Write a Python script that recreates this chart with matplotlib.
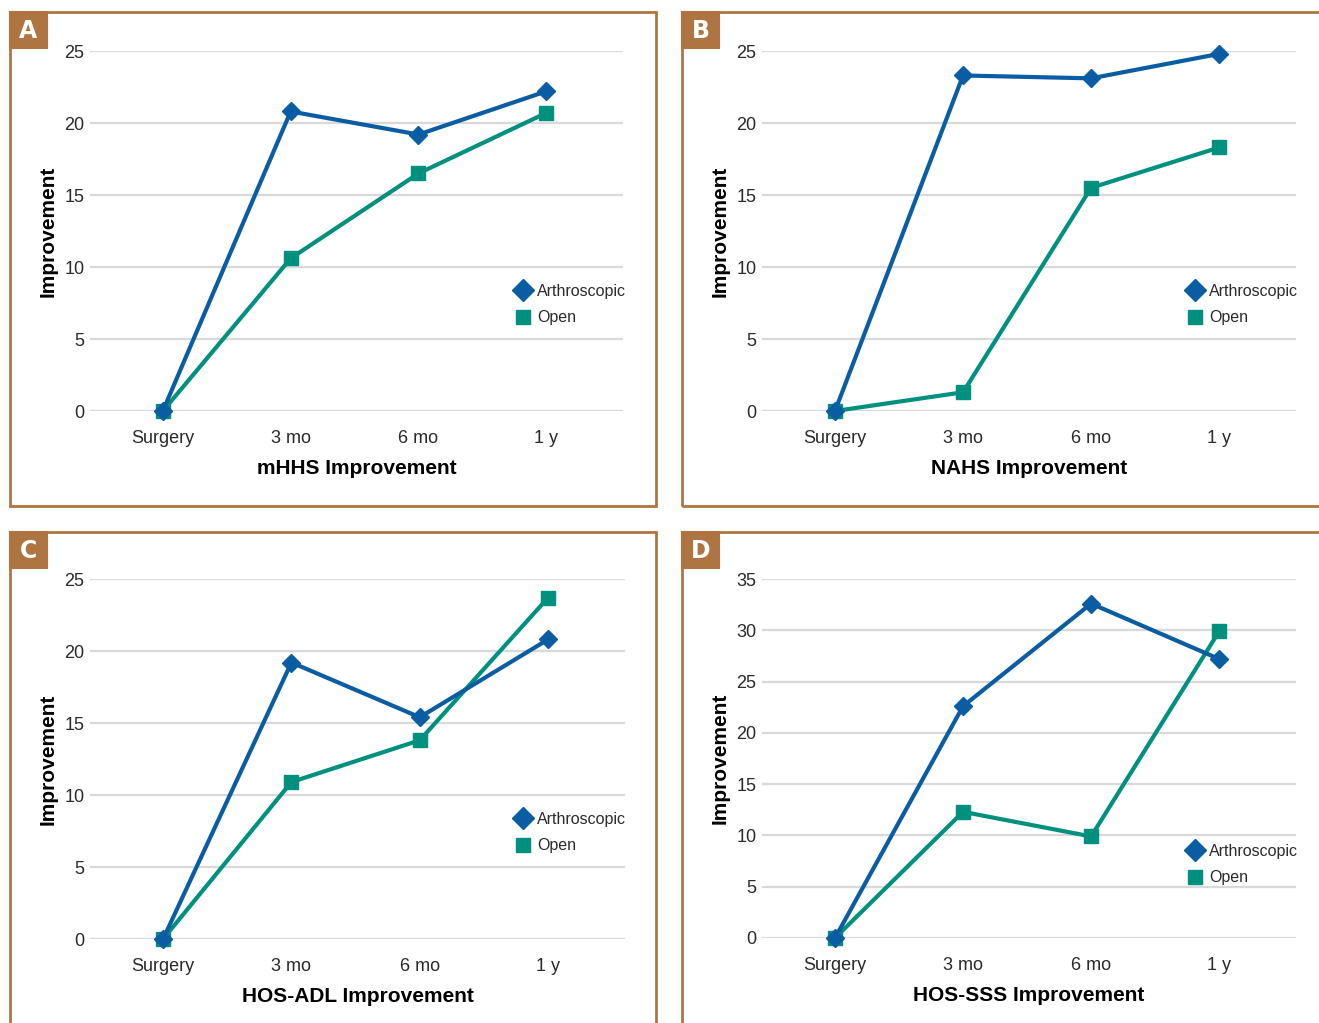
import matplotlib
matplotlib.use("Agg")
import matplotlib.pyplot as plt
from matplotlib.patches import Rectangle
from matplotlib.lines import Line2D

plt.rcParams['font.family'] = ['Liberation Sans', 'DejaVu Sans']

W, H = 1319, 1023

categories = ["Surgery", "3 mo", "6 mo", "1 y"]
series_names = ["Arthroscopic", "Open"]

panel_letters = ["A", "B", "C", "D"]
panel_titles = ["mHHS Improvement", "NAHS Improvement", "HOS-ADL Improvement", "HOS-SSS Improvement"]

arthro_A = [0, 20.8, 19.2, 22.2]
open_A = [0, 10.6, 16.5, 20.7]
arthro_B = [0, 23.3, 23.1, 24.8]
open_B = [0, 1.3, 15.5, 18.3]
arthro_C = [0, 19.2, 15.4, 20.8]
open_C = [0, 10.9, 13.8, 23.7]
arthro_D = [0, 22.6, 32.6, 27.2]
open_D = [0, 12.3, 9.9, 29.9]

yticks_ABC = [0, 5, 10, 15, 20, 25]
yticks_D = [0, 5, 10, 15, 20, 25, 30, 35]

data = [(arthro_A, open_A, yticks_ABC), (arthro_B, open_B, yticks_ABC),
        (arthro_C, open_C, yticks_ABC), (arthro_D, open_D, yticks_D)]

BLUE = "#0a5ca3"
TEAL = "#00907e"
BROWN = "#ae7543"
GRID = "#d9d9d9"
TXT = "#2a2a2a"

fig = plt.figure(figsize=(W / 100, H / 100), dpi=100)

def fx(x):
    return x / W

def fy(y):
    return 1 - y / H

# panel geometry in pixels
frames = [(10, 12, 656, 506), (682, 12, 1400, 506), (10, 532, 656, 1100), (682, 532, 1400, 1100)]
axes_px = [(90, 51, 623, 411), (762, 51, 1296, 411), (90, 579, 625, 939), (762, 579, 1296, 938)]
legend_px = [(515, 284), (1187, 284), (515, 812), (1187, 844)]

for i in range(4):
    x0, y0, x1, y1 = frames[i]
    fig.add_artist(Rectangle((fx(x0), fy(y1)), fx(x1) - fx(x0), fy(y0) - fy(y1),
                             transform=fig.transFigure, fill=False, edgecolor=BROWN, lw=2.0))
    fig.add_artist(Rectangle((fx(x0), fy(y0 + 36)), fx(37), 36 / H,
                             transform=fig.transFigure, facecolor=BROWN, edgecolor=BROWN, lw=1.5))
    fig.text(fx(x0 + 18.5), fy(y0 + 19), panel_letters[i], color="white", fontsize=17,
             fontweight="bold", ha="center", va="center", family=['DejaVu Sans'])

    ax0, ay0, ax1, ay1 = axes_px[i]
    ax = fig.add_axes([fx(ax0), fy(ay1), fx(ax1) - fx(ax0), fy(ay0) - fy(ay1)])
    arthro, opn, yt = data[i]
    xs = list(range(len(categories)))
    ax.plot(xs, arthro, color=BLUE, lw=3, marker="D", ms=9.5, clip_on=False, zorder=4,
            label=series_names[0])
    ax.plot(xs, opn, color=TEAL, lw=3, marker="s", ms=10, clip_on=False, zorder=3,
            label=series_names[1])
    ax.set_xlim(-0.57, 3.6)
    ax.set_ylim(yt[0], yt[-1])
    ax.set_yticks(yt)
    ax.set_xticks(xs)
    ax.set_xticklabels(categories)
    ax.yaxis.grid(True, color=GRID, lw=1.6)
    ax.set_axisbelow(True)
    for s in ax.spines.values():
        s.set_visible(False)
    ax.tick_params(axis="both", length=0, labelsize=13, colors=TXT)
    ax.tick_params(axis="y", pad=4)
    ax.tick_params(axis="x", pad=14)
    ax.set_ylabel("Improvement", fontsize=15, fontweight="bold", color="black", labelpad=5)
    ax.set_xlabel(panel_titles[i], fontsize=15, fontweight="bold", color="black", labelpad=8.5)

    lx, ly = legend_px[i]
    ax.legend(loc="upper left", bbox_to_anchor=(fx(lx), fy(ly)), bbox_transform=fig.transFigure,
              frameon=False, handlelength=1.0, handletextpad=0.4, labelspacing=0.7,
              borderpad=0, borderaxespad=0, fontsize=11.5,
              handles=[Line2D([], [], color=BLUE, marker="D", ms=11, lw=0),
                       Line2D([], [], color=TEAL, marker="s", ms=10, lw=0)],
              labels=series_names, labelcolor=TXT)

fig.savefig("out.png", dpi=100)
